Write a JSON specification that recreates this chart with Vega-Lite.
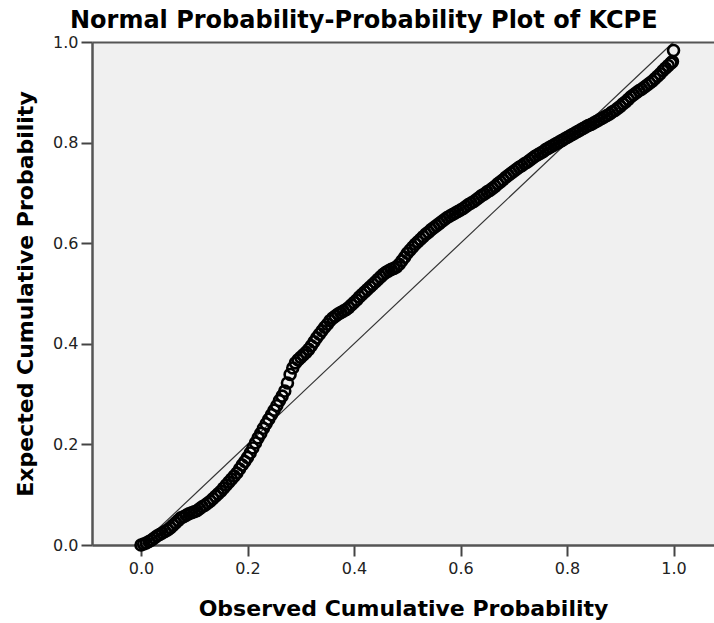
{
  "$schema": "https://vega.github.io/schema/vega-lite/v6.json",
  "width": 622,
  "height": 503,
  "autosize": {"type": "none"},
  "padding": {"left": 92, "top": 42, "right": 0, "bottom": 78},
  "background": "white",
  "title": {
    "text": "Normal Probability-Probability Plot of KCPE",
    "anchor": "start",
    "frame": "group",
    "dx": -22,
    "offset": -18,
    "baseline": "alphabetic",
    "font": "DejaVu Sans",
    "fontSize": 24,
    "fontWeight": "bold",
    "color": "#000000"
  },
  "config": {
    "view": {"fill": "#f0f0f0", "stroke": null},
    "axis": {
      "grid": false,
      "domainColor": "#555555",
      "domainWidth": 2.5,
      "tickColor": "#444444",
      "tickWidth": 2,
      "tickSize": 11,
      "labelFont": "DejaVu Sans",
      "labelFontSize": 16,
      "labelColor": "#222222",
      "titleFont": "DejaVu Sans",
      "titleFontSize": 22,
      "titleFontWeight": "bold",
      "titleColor": "#000000"
    }
  },
  "datasets": {
    "pts": [
      {"o":0.000,"e":0.000},{"o":0.005,"e":0.002},{"o":0.010,"e":0.004},{"o":0.015,"e":0.007},{"o":0.020,"e":0.010},
      {"o":0.025,"e":0.014},{"o":0.030,"e":0.018},{"o":0.035,"e":0.021},{"o":0.040,"e":0.024},{"o":0.045,"e":0.027},
      {"o":0.050,"e":0.030},{"o":0.055,"e":0.034},{"o":0.060,"e":0.039},{"o":0.065,"e":0.044},{"o":0.070,"e":0.049},
      {"o":0.075,"e":0.054},{"o":0.080,"e":0.056},{"o":0.085,"e":0.059},{"o":0.090,"e":0.062},{"o":0.095,"e":0.064},
      {"o":0.100,"e":0.066},{"o":0.105,"e":0.068},{"o":0.110,"e":0.072},{"o":0.115,"e":0.076},{"o":0.120,"e":0.079},
      {"o":0.125,"e":0.083},{"o":0.130,"e":0.087},{"o":0.135,"e":0.092},{"o":0.140,"e":0.097},{"o":0.145,"e":0.102},
      {"o":0.150,"e":0.107},{"o":0.155,"e":0.113},{"o":0.160,"e":0.119},{"o":0.165,"e":0.125},{"o":0.170,"e":0.131},
      {"o":0.175,"e":0.137},{"o":0.180,"e":0.143},{"o":0.185,"e":0.151},{"o":0.190,"e":0.159},{"o":0.195,"e":0.166},
      {"o":0.200,"e":0.174},{"o":0.205,"e":0.183},{"o":0.210,"e":0.193},{"o":0.215,"e":0.203},{"o":0.220,"e":0.213},
      {"o":0.225,"e":0.222},{"o":0.230,"e":0.232},{"o":0.235,"e":0.241},{"o":0.240,"e":0.250},{"o":0.245,"e":0.259},
      {"o":0.250,"e":0.268},{"o":0.255,"e":0.277},{"o":0.260,"e":0.287},{"o":0.265,"e":0.296},{"o":0.270,"e":0.306},
      {"o":0.275,"e":0.322},{"o":0.280,"e":0.339},{"o":0.285,"e":0.352},{"o":0.290,"e":0.362},{"o":0.295,"e":0.368},
      {"o":0.300,"e":0.373},{"o":0.305,"e":0.378},{"o":0.310,"e":0.383},{"o":0.315,"e":0.389},{"o":0.320,"e":0.396},
      {"o":0.325,"e":0.404},{"o":0.330,"e":0.412},{"o":0.335,"e":0.419},{"o":0.340,"e":0.426},{"o":0.345,"e":0.433},
      {"o":0.350,"e":0.439},{"o":0.355,"e":0.446},{"o":0.360,"e":0.451},{"o":0.365,"e":0.455},{"o":0.370,"e":0.459},
      {"o":0.375,"e":0.462},{"o":0.380,"e":0.465},{"o":0.385,"e":0.468},{"o":0.390,"e":0.472},{"o":0.395,"e":0.477},
      {"o":0.400,"e":0.482},{"o":0.405,"e":0.487},{"o":0.410,"e":0.493},{"o":0.415,"e":0.498},{"o":0.420,"e":0.503},
      {"o":0.425,"e":0.508},{"o":0.430,"e":0.513},{"o":0.435,"e":0.518},{"o":0.440,"e":0.523},{"o":0.445,"e":0.528},
      {"o":0.450,"e":0.533},{"o":0.455,"e":0.538},{"o":0.460,"e":0.542},{"o":0.465,"e":0.545},{"o":0.470,"e":0.548},
      {"o":0.475,"e":0.550},{"o":0.480,"e":0.553},{"o":0.485,"e":0.558},{"o":0.490,"e":0.565},{"o":0.495,"e":0.572},
      {"o":0.500,"e":0.580},{"o":0.505,"e":0.586},{"o":0.510,"e":0.592},{"o":0.515,"e":0.598},{"o":0.520,"e":0.603},
      {"o":0.525,"e":0.608},{"o":0.530,"e":0.613},{"o":0.535,"e":0.618},{"o":0.540,"e":0.622},{"o":0.545,"e":0.627},
      {"o":0.550,"e":0.631},{"o":0.555,"e":0.635},{"o":0.560,"e":0.639},{"o":0.565,"e":0.643},{"o":0.570,"e":0.647},
      {"o":0.575,"e":0.651},{"o":0.580,"e":0.654},{"o":0.585,"e":0.657},{"o":0.590,"e":0.660},{"o":0.595,"e":0.663},
      {"o":0.600,"e":0.666},{"o":0.605,"e":0.669},{"o":0.610,"e":0.673},{"o":0.615,"e":0.677},{"o":0.620,"e":0.680},
      {"o":0.625,"e":0.683},{"o":0.630,"e":0.687},{"o":0.635,"e":0.691},{"o":0.640,"e":0.695},{"o":0.645,"e":0.698},
      {"o":0.650,"e":0.702},{"o":0.655,"e":0.705},{"o":0.660,"e":0.709},{"o":0.665,"e":0.713},{"o":0.670,"e":0.718},
      {"o":0.675,"e":0.722},{"o":0.680,"e":0.726},{"o":0.685,"e":0.731},{"o":0.690,"e":0.735},{"o":0.695,"e":0.739},
      {"o":0.700,"e":0.743},{"o":0.705,"e":0.747},{"o":0.710,"e":0.751},{"o":0.715,"e":0.754},{"o":0.720,"e":0.758},
      {"o":0.725,"e":0.761},{"o":0.730,"e":0.765},{"o":0.735,"e":0.769},{"o":0.740,"e":0.773},{"o":0.745,"e":0.776},
      {"o":0.750,"e":0.779},{"o":0.755,"e":0.782},{"o":0.760,"e":0.786},{"o":0.765,"e":0.789},{"o":0.770,"e":0.792},
      {"o":0.775,"e":0.795},{"o":0.780,"e":0.798},{"o":0.785,"e":0.801},{"o":0.790,"e":0.804},{"o":0.795,"e":0.807},
      {"o":0.800,"e":0.810},{"o":0.805,"e":0.813},{"o":0.810,"e":0.816},{"o":0.815,"e":0.819},{"o":0.820,"e":0.822},
      {"o":0.825,"e":0.825},{"o":0.830,"e":0.828},{"o":0.835,"e":0.831},{"o":0.840,"e":0.834},{"o":0.845,"e":0.836},
      {"o":0.850,"e":0.839},{"o":0.855,"e":0.842},{"o":0.860,"e":0.845},{"o":0.865,"e":0.848},{"o":0.870,"e":0.851},
      {"o":0.875,"e":0.854},{"o":0.880,"e":0.857},{"o":0.885,"e":0.861},{"o":0.890,"e":0.864},{"o":0.895,"e":0.868},
      {"o":0.900,"e":0.872},{"o":0.905,"e":0.877},{"o":0.910,"e":0.881},{"o":0.915,"e":0.886},{"o":0.920,"e":0.891},
      {"o":0.925,"e":0.895},{"o":0.930,"e":0.899},{"o":0.935,"e":0.903},{"o":0.940,"e":0.906},{"o":0.945,"e":0.910},
      {"o":0.950,"e":0.914},{"o":0.955,"e":0.918},{"o":0.960,"e":0.922},{"o":0.965,"e":0.927},{"o":0.970,"e":0.932},
      {"o":0.975,"e":0.937},{"o":0.980,"e":0.943},{"o":0.985,"e":0.948},{"o":0.990,"e":0.953},{"o":0.995,"e":0.958},
      {"o":0.998,"e":0.961},{"o":1.000,"e":0.983}
    ],
    "ref": [{"o": 0, "e": 0}, {"o": 1, "e": 1}]
  },
  "layer": [
    {
      "data": {"name": "ref"},
      "mark": {"type": "line", "color": "#333333", "strokeWidth": 1.2, "clip": true},
      "encoding": {
        "x": {"field": "o", "type": "quantitative", "scale": {"domain": [-0.092, 1.076], "nice": false, "zero": false},
          "axis": {"orient": "top", "labels": false, "ticks": false, "title": null, "domain": true, "domainWidth": 2, "domainColor": "#555555"}},
        "y": {"field": "e", "type": "quantitative", "scale": {"domain": [0, 1], "nice": false},
          "axis": {"values": [0, 0.2, 0.4, 0.6, 0.8, 1.0], "format": ".1f", "labelPadding": 3,
            "title": "Expected Cumulative Probability", "titleX": -60, "titleBaseline": "alphabetic"}}
      }
    },
    {
      "data": {"name": "pts"},
      "mark": {"type": "point", "shape": "circle", "filled": false, "stroke": "#000000", "strokeWidth": 2.6, "size": 120, "opacity": 1},
      "encoding": {
        "x": {"field": "o", "type": "quantitative", "scale": {"domain": [-0.092, 1.076], "nice": false, "zero": false},
          "axis": {"orient": "bottom", "values": [0, 0.2, 0.4, 0.6, 0.8, 1.0], "format": ".1f", "labelPadding": 4,
            "title": "Observed Cumulative Probability", "titleY": 70, "titleBaseline": "alphabetic"}},
        "y": {"field": "e", "type": "quantitative"}
      }
    }
  ],
  "resolve": {"axis": {"x": "independent"}}
}
